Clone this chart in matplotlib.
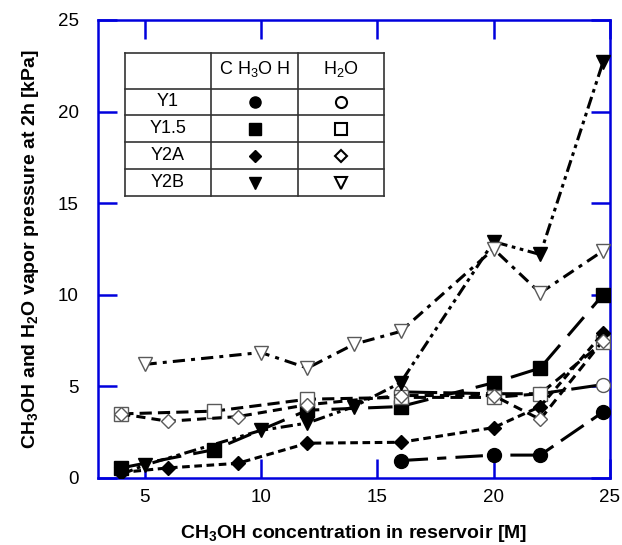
import matplotlib
matplotlib.use('Agg')
import matplotlib.pyplot as plt
from matplotlib.lines import Line2D

plt.rcParams['font.family'] = ['Liberation Sans', 'DejaVu Sans']
plt.rcParams['mathtext.fontset'] = 'custom'
plt.rcParams['mathtext.rm'] = 'Liberation Sans'
plt.rcParams['mathtext.bf'] = 'Liberation Sans:bold'

# concentration in reservoir [M] and vapor pressure [kPa]
y1_meoh_x = [16, 20, 22, 24.7]
y1_meoh_p = [0.95, 1.25, 1.25, 3.6]
y1_h2o_x = [16, 20, 22, 24.7]
y1_h2o_p = [4.7, 4.6, 4.6, 5.1]

y15_meoh_x = [4, 8, 12, 16, 20, 22, 24.7]
y15_meoh_p = [0.55, 1.55, 3.7, 3.9, 5.2, 6.0, 10.0]
y15_h2o_x = [4, 8, 12, 16, 20, 22, 24.7]
y15_h2o_p = [3.5, 3.65, 4.3, 4.4, 4.4, 4.6, 7.4]

y2a_meoh_x = [4, 6, 9, 12, 16, 20, 22, 24.7]
y2a_meoh_p = [0.3, 0.55, 0.8, 1.9, 1.95, 2.75, 3.9, 7.9]
y2a_h2o_x = [4, 6, 9, 12, 16, 20, 22, 24.7]
y2a_h2o_p = [3.5, 3.1, 3.35, 4.0, 4.5, 4.5, 3.2, 7.5]

y2b_meoh_x = [4, 5, 10, 12, 14, 16, 20, 22, 24.7]
y2b_meoh_p = [0.2, 0.7, 2.6, 3.0, 3.9, 5.2, 12.9, 12.2, 22.7]
y2b_h2o_x = [5, 10, 12, 14, 16, 20, 22, 24.7]
y2b_h2o_p = [6.2, 6.85, 6.0, 7.3, 8.0, 12.5, 10.1, 12.4]

samples = ['Y1', 'Y1.5', 'Y2A', 'Y2B']
shapes = ['o', 's', 'D', 'v']
sizes = [10, 10, 8, 10]

blue = '#0000dd'
lw = 2.2

fig = plt.figure(figsize=(6.22, 5.45), dpi=100)
ax = fig.add_axes([98/622, 1-478/545, 512/622, 458/545])

def filled(x, p, m, ms, dashes):
    ax.plot(x, p, color='black', lw=lw, dashes=dashes, marker=m, ms=ms,
            mfc='black', mec='black', zorder=3)

def hollow(x, p, m, ms, dashes):
    ax.plot(x, p, color='black', lw=lw, dashes=dashes, marker=m, ms=ms,
            mfc='white', mec='0.35', mew=1.0, zorder=3)

filled(y1_meoh_x, y1_meoh_p, 'o', 10, (9, 3, 3, 3))
hollow(y1_h2o_x, y1_h2o_p, 'o', 10, (12, 2))
filled(y15_meoh_x, y15_meoh_p, 's', 9.5, (8, 4))
hollow(y15_h2o_x, y15_h2o_p, 's', 9.5, (4, 2))
filled(y2a_meoh_x, y2a_meoh_p, 'D', 7.5, (2.5, 1.5))
hollow(y2a_h2o_x, y2a_h2o_p, 'D', 7.5, (3, 2))
filled(y2b_meoh_x, y2b_meoh_p, 'v', 10, (4, 1.5, 1.2, 1.5, 1.2, 1.5))
hollow(y2b_h2o_x, y2b_h2o_p, 'v', 10.5, (4, 2, 1.3, 2))

ax.set_xlim(3, 25)
ax.set_ylim(0, 25)
ax.set_xticks([5, 10, 15, 20, 25])
ax.set_yticks([0, 5, 10, 15, 20, 25])
for s in ax.spines.values():
    s.set_color(blue)
    s.set_linewidth(1.8)
ax.tick_params(direction='in', length=14, width=1.8, color=blue,
               top=True, right=True, labelsize=13.5)
ax.tick_params(axis='x', pad=8)
ax.tick_params(axis='y', pad=14)

ax.set_xlabel(r'CH$_\mathbf{3}$OH concentration in reservoir [M]',
              fontsize=14, fontweight='bold', labelpad=12)
ax.set_ylabel(r'CH$_\mathbf{3}$OH and H$_\mathbf{2}$O vapor pressure at 2h [kPa]',
              fontsize=14, fontweight='bold', labelpad=12)

# marker key drawn as a small table in the upper left
def fx(px):
    return (px - 98) / 512

def fy(py):
    return (478 - py) / 458

cols = [125, 211, 298, 384]
rows = [53, 89, 115, 142, 169, 196]
tk = dict(color='0.2', lw=1.2, transform=ax.transAxes, zorder=5)
ax.add_patch(plt.Rectangle((fx(cols[0]), fy(rows[-1])), fx(cols[-1]) - fx(cols[0]),
                           fy(rows[0]) - fy(rows[-1]), transform=ax.transAxes,
                           facecolor='white', edgecolor='none', zorder=4))
for c in cols:
    ax.add_line(Line2D([fx(c), fx(c)], [fy(rows[0]), fy(rows[-1])], **tk))
for r in rows:
    ax.add_line(Line2D([fx(cols[0]), fx(cols[-1])], [fy(r), fy(r)], **tk))

tcx = [(fx(cols[i]) + fx(cols[i + 1])) / 2 for i in range(3)]
hy = (fy(rows[0]) + fy(rows[1])) / 2
ax.text(tcx[1], hy + 0.005, r'C H$_3$O H', transform=ax.transAxes, ha='center',
        va='center', fontsize=13, zorder=6)
ax.text(tcx[2], hy + 0.005, r'H$_2$O', transform=ax.transAxes, ha='center',
        va='center', fontsize=13, zorder=6)
for i, (name, m, ms) in enumerate(zip(samples, shapes, sizes)):
    ry = (fy(rows[i + 1]) + fy(rows[i + 2])) / 2
    ax.text(tcx[0], ry, name, transform=ax.transAxes, ha='center', va='center',
            fontsize=13, zorder=6)
    ax.plot([tcx[1]], [ry], marker=m, ms=ms * 0.8, color='black',
            transform=ax.transAxes, zorder=6)
    ax.plot([tcx[2]], [ry], marker=m, ms=ms * 0.8, mfc='white', mec='black',
            mew=1.5, transform=ax.transAxes, zorder=6)

fig.savefig('out.png', dpi=100)
